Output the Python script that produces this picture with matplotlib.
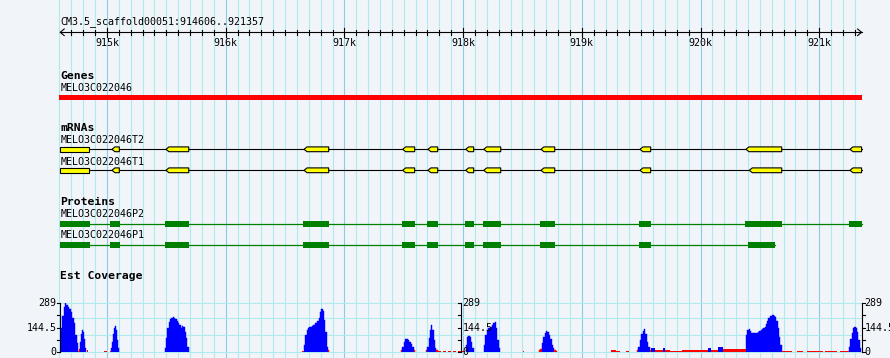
import numpy as np
import matplotlib
matplotlib.use("Agg")
import matplotlib.pyplot as plt
from matplotlib.patches import Rectangle, Polygon

# region shown
ref_name = "CM3.5_scaffold00051"
view_start = 914606
view_end = 921357

# Genes track
gene_name = "MELO3C022046"
gene_start = 914500
gene_end = 921500

# mRNAs track (minus strand)
mrna_names = ["MELO3C022046T2", "MELO3C022046T1"]
mrna_ends = [921500, 921500]
t2_exon_starts = [914500, 915042, 915497, 916660, 917491, 917704, 918022, 918174, 918656, 919490, 920383, 921259]
t2_exon_ends = [914851, 915104, 915689, 916868, 917592, 917786, 918089, 918317, 918772, 919580, 920684, 921500]
t1_exon_starts = [914500, 915042, 915497, 916660, 917491, 917704, 918022, 918174, 918656, 919490, 920411, 921259]
t1_exon_ends = [914851, 915104, 915689, 916868, 917592, 917786, 918089, 918317, 918772, 919580, 920684, 921500]

# Proteins track
protein_names = ["MELO3C022046P2", "MELO3C022046P1"]
protein_ends = [921500, 920628]
p2_cds_starts = [914500, 915026, 915489, 916651, 917485, 917696, 918016, 918168, 918648, 919482, 920375, 921251]
p2_cds_ends = [914857, 915110, 915691, 916870, 917594, 917789, 918092, 918320, 918775, 919584, 920687, 921500]
p1_cds_starts = [914500, 915026, 915489, 916651, 917485, 917696, 918016, 918168, 918648, 919482, 920400]
p1_cds_ends = [914857, 915110, 915691, 916870, 917594, 917789, 918092, 918320, 918775, 919584, 920628]

# Est coverage: peaks (start, end, readings spread evenly over the span)
cov_max = 289
cov_pivot = 20
peak_starts = [914610, 914764, 915034, 915486, 916660, 917477, 917687, 918022, 918176, 918640, 919465, 920383, 921251]
peak_ends = [914756, 914823, 915104, 915689, 916873, 917595, 917786, 918089, 918311, 918792, 919584, 920684, 921352]
peak_values = [
    [140, 215, 265, 289, 278, 268, 255, 235, 200, 170, 100, 55],
    [15, 60, 105, 130, 120, 80, 25],
    [22, 61, 105, 140, 154, 130, 71, 22],
    [22, 81, 140, 180, 196, 200, 210, 200, 196, 184, 170, 160, 140, 156, 150, 120, 81, 32],
    [40, 100, 130, 145, 150, 150, 155, 160, 170, 175, 185, 200, 240, 255, 245, 190, 120, 30, 10],
    [12, 28, 61, 75, 77, 72, 61, 45, 28, 12],
    [10, 28, 81, 130, 160, 130, 71, 22, 10],
    [41, 87, 95, 87, 61, 22],
    [41, 101, 130, 140, 144, 150, 160, 174, 180, 140, 71, 22],
    [12, 16, 51, 87, 115, 127, 119, 101, 75, 41, 22, 12, 8],
    [12, 28, 71, 107, 127, 134, 107, 61, 28, 12],
    [100, 130, 138, 125, 115, 111, 110, 110, 112, 118, 122, 128, 135, 142, 150, 165, 182,
     200, 212, 216, 220, 215, 205, 185, 140, 90, 40],
    [28, 75, 115, 140, 150, 140, 121, 71, 22],
]
# low coverage stretches between the peaks
low_starts = [914756, 914829, 914975, 915026, 916647, 917786, 917828, 917870, 917912, 917954,
              917988, 918507, 919248, 919290, 919375, 919584, 919618, 919685, 919702, 919744,
              919845, 920064, 920089, 920148, 920190, 920687, 920813, 920897, 921049, 921175]
low_ends = [914764, 914840, 914998, 915034, 916660, 917811, 917853, 917895, 917937, 917980,
            918013, 918515, 919290, 919325, 919400, 919618, 919685, 919702, 919744, 919845,
            920064, 920089, 920148, 920190, 920383, 920771, 920863, 921032, 921150, 921251]
low_values = [8, 10, 5, 6, 8, 4, 4, 4, 4, 4,
              4, 5, 10, 6, 8, 22, 14, 22, 10, 6,
              14, 26, 14, 32, 16, 6, 6, 6, 6, 6]

bg = "#f1f5fa"
minor_grid = "#aeeaee"
major_grid = "#8ccbe6"
mono = "DejaVu Sans Mono"

W, H = 890, 358
left_px, right_px = 60.2, 861.6
bp_per_px = (view_end - view_start) / (right_px - left_px)

fig = plt.figure(figsize=(W / 100, H / 100), dpi=100, facecolor=bg)
ax = fig.add_axes([0, 0, 1, 1])
ax.set_xlim(view_start - left_px * bp_per_px, view_start + (W - left_px) * bp_per_px)
ax.set_ylim(H, 0)
ax.axis("off")

# vertical grid every 100 bp
for pos in range(914600, view_end + 1, 100):
    c = major_grid if pos % 1000 == 0 else minor_grid
    ax.axvline(pos, color=c, lw=0.8, zorder=0)

# ruler
ruler_y = 32.3
ax.text(view_start + 0.5 * bp_per_px, 21.3, f"{ref_name}:{view_start}..{view_end}",
        family=mono, fontsize=7.2, va="center", ha="left")
ax.plot([view_start, view_end], [ruler_y, ruler_y], color="black", lw=0.8)
d = 4 * bp_per_px
ax.plot([view_start + d, view_start, view_start + d], [ruler_y - 3.3, ruler_y, ruler_y + 3.3],
        color="black", lw=0.8)
ax.plot([view_end - d, view_end, view_end - d], [ruler_y - 3.3, ruler_y, ruler_y + 3.3],
        color="black", lw=0.8)
for pos in range(914700, view_end, 100):
    if pos % 1000 == 0:
        ax.plot([pos, pos], [28.0, 36.7], color="black", lw=0.8)
        ax.text(pos, 42.5, f"{pos // 1000}k", family=mono, fontsize=7.2, ha="center", va="center")
    else:
        ax.plot([pos, pos], [29.8, 34.7], color="black", lw=0.8)


def track_label(y, text, bold=False):
    ax.text(view_start + 0.3 * bp_per_px, y, text, family=mono,
            fontsize=8.2 if bold else 7.2, fontweight="bold" if bold else "normal",
            ha="left", va="center")


def clip(a, b):
    return max(a, view_start), min(b, view_end)


# Genes
track_label(76.0, "Genes", bold=True)
track_label(88.3, gene_name)
gs, ge = clip(gene_start, gene_end)
ax.add_patch(Rectangle((gs - 0.9 * bp_per_px, 95.0), ge - gs + 1.3 * bp_per_px, 5.3,
                       facecolor="#ff0000", edgecolor="none"))

# mRNAs
track_label(128.0, "mRNAs", bold=True)
tip = 3 * bp_per_px
for name, end, starts, ends, lab_y, y in zip(mrna_names, mrna_ends,
                                             [t2_exon_starts, t1_exon_starts],
                                             [t2_exon_ends, t1_exon_ends],
                                             [140.0, 161.7], [149.3, 170.3]):
    track_label(lab_y, name)
    ls, le = clip(gene_start, end)
    ax.plot([ls, le], [y, y], color="black", lw=0.8, zorder=2)
    h = 2.4
    for s, e in zip(starts, ends):
        cs, ce = clip(s, e)
        if cs > s:
            pts = [(cs, y - h), (ce, y - h), (ce, y + h), (cs, y + h)]
        else:
            pts = [(cs, y), (cs + tip, y - h), (ce, y - h), (ce, y + h), (cs + tip, y + h)]
        ax.add_patch(Polygon(pts, closed=True, facecolor="#ffff00", edgecolor="black",
                             lw=0.8, zorder=3))

# Proteins
track_label(202.0, "Proteins", bold=True)
for name, end, starts, ends, lab_y, y in zip(protein_names, protein_ends,
                                             [p2_cds_starts, p1_cds_starts],
                                             [p2_cds_ends, p1_cds_ends],
                                             [214.0, 235.3], [223.8, 244.8]):
    track_label(lab_y, name)
    ls, le = clip(gene_start, end)
    ax.plot([ls, le], [y, y], color="#008000", lw=0.9, zorder=2)
    h = 2.9
    for s, e in zip(starts, ends):
        cs, ce = clip(s, e)
        ax.add_patch(Rectangle((cs, y - h), ce - cs, 2 * h, facecolor="#008000",
                               edgecolor="none", zorder=3))

# Est Coverage
track_label(276.0, "Est Coverage", bold=True)
cov_top_px, cov_bot_px = 303.3, 352.0
ax2 = fig.add_axes([left_px / W, 1 - cov_bot_px / H, (right_px - left_px) / W,
                    (cov_bot_px - cov_top_px) / H])
ax2.set_xlim(view_start, view_end)
ax2.set_ylim(0, cov_max)
ax2.axis("off")
for v in [0, 100, 200, cov_max]:
    ax2.axhline(v, color=minor_grid, lw=0.8, zorder=0, clip_on=False)


def cov_color(v):
    return "#0000ff" if v >= cov_pivot else "#ff0000"


for s, e, vals in zip(peak_starts, peak_ends, peak_values):
    edges = np.linspace(s, e, len(vals) + 1)
    ax2.bar(edges[:-1], vals, width=np.diff(edges), align="edge",
            color=[cov_color(v) for v in vals], linewidth=0.3,
            edgecolor=[cov_color(v) for v in vals], zorder=2)
ax2.bar(low_starts, low_values, width=np.array(low_ends) - np.array(low_starts), align="edge",
        color=[cov_color(v) for v in low_values], linewidth=0, zorder=2)

# three y axes: left, middle, right
mid = (view_start + view_end) / 2
tick_vals = [0, cov_max / 4, cov_max / 2, 3 * cov_max / 4, cov_max]
tick_labels = {0: "0", cov_max / 2: f"{cov_max / 2:g}", cov_max: f"{cov_max}"}
tl = 3 * bp_per_px
for xa, side, lab_side in [(view_start, -1, -1), (mid, -1, 1), (view_end, 1, 1)]:
    ax2.plot([xa, xa], [0, cov_max], color="black", lw=0.8, clip_on=False, zorder=4)
    for tv in tick_vals:
        ax2.plot([xa, xa + side * tl], [tv, tv], color="black", lw=0.8, clip_on=False, zorder=4)
    for tv, txt in tick_labels.items():
        if lab_side < 0:
            ax2.annotate(txt, (xa, tv), xytext=(-2.7, 0), textcoords="offset points",
                         ha="right", va="center", family=mono, fontsize=7.2,
                         annotation_clip=False, zorder=5)
        else:
            off = 1.2 if xa == mid else 2.2
            ax2.annotate(txt, (xa, tv), xytext=(off, 0), textcoords="offset points",
                         ha="left", va="center", family=mono, fontsize=7.2,
                         annotation_clip=False, zorder=5)

fig.savefig("out.png", dpi=100, facecolor=bg)
